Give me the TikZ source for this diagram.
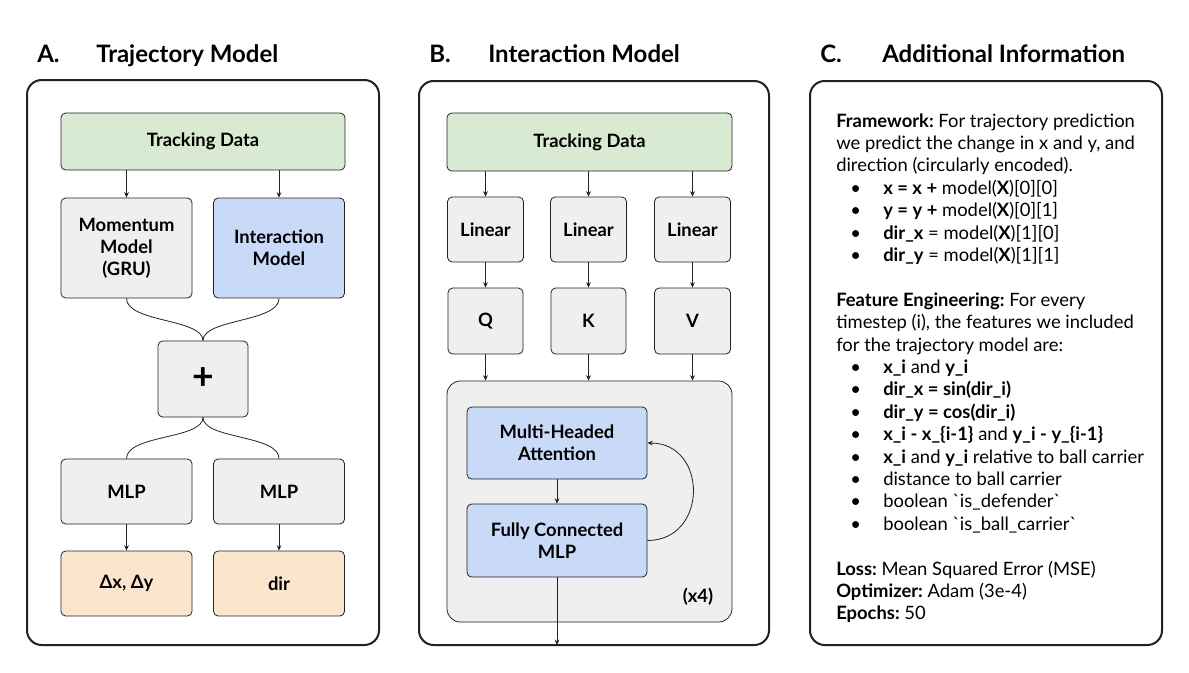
\documentclass[tikz,border=0pt]{standalone}
\usepackage{fontspec}
\setmainfont{Lato}
\usetikzlibrary{arrows.meta}
\definecolor{boxgray}{HTML}{EFEFEF}
\definecolor{boxblue}{HTML}{C9DAF8}
\definecolor{boxgreen}{HTML}{D9EAD3}
\definecolor{boxorange}{HTML}{FCE5CD}
\definecolor{edge}{HTML}{222222}
\newcommand\bul{\hspace*{10.5pt}\makebox[24.75pt][l]{\textbullet}}
\newcommand\bq{\textasciigrave}
\frenchspacing
\tikzset{
  panel/.style={draw=edge, line width=1.5pt, rounded corners=11pt},
  blk/.style={draw=edge, line width=0.6pt, rounded corners=3.5pt, align=center,
    font=\fontsize{13.8}{16.5}\selectfont\bfseries, inner sep=0pt},
  gray/.style={blk, fill=boxgray},
  blue/.style={blk, fill=boxblue},
  green/.style={blk, fill=boxgreen},
  orange/.style={blk, fill=boxorange},
  conn/.style={draw=edge, line width=0.6pt},
  arr/.style={conn, -{Stealth[length=4pt,width=3.5pt]}},
  ttl/.style={anchor=base west, inner sep=0pt, font=\fontsize{18}{22}\selectfont\bfseries},
  txt/.style={anchor=base west, inner sep=0pt, font=\fontsize{13.8}{16}\selectfont\frenchspacing}
}
\begin{document}
\begin{tikzpicture}[x=0.75pt, y=-0.75pt]
\useasboundingbox (0,0) rectangle (1189,672);
% ---------------- Titles
\node[ttl] (tA1) at (37,62) {A.};
\node[ttl] (tA2) at (96,62) {Trajectory Model};
\node[ttl] (tB1) at (429,62) {B.};
\node[ttl] (tB2) at (488,62) {Interaction Model};
\node[ttl] (tC1) at (820,62) {C.};
\node[ttl] (tC2) at (882,62) {Additional Information};
% ---------------- Panels
\draw[panel] (27,80) rectangle (379,645);
\draw[panel] (419,81) rectangle (769,645);
\draw[panel] (810,81) rectangle (1162,645);
% ---------------- Panel A
\node[green, minimum width=213pt, minimum height=42.75pt] (tdA) at (203,141.5) {Tracking Data};
\node[gray, minimum width=98.25pt, minimum height=75pt] (mom) at (126.5,248) {Momentum\\Model\\(GRU)};
\node[blue, minimum width=98.25pt, minimum height=75pt] (intA) at (279,248) {Interaction\\Model};
\node[gray, minimum width=67.5pt, minimum height=57pt, font=\fontsize{28}{30}\selectfont\bfseries] (plus) at (203,379) {+};
\node[gray, minimum width=98.25pt, minimum height=48.75pt] (mlp1) at (126.5,491.5) {MLP};
\node[gray, minimum width=98.25pt, minimum height=48.75pt] (mlp2) at (279,491.5) {MLP};
\node[orange, minimum width=98.25pt, minimum height=48.75pt] (out1) at (126.5,583.5) {Δx, Δy};
\node[orange, minimum width=98.25pt, minimum height=48.75pt] (out2) at (279,583.5) {dir};
\draw[arr] (tdA.south -| mom.north) -- (mom.north);
\draw[arr] (tdA.south -| intA.north) -- (intA.north);
\draw[conn] (mom.south) .. controls +(0,24) and +(0,-22) .. (plus.north);
\draw[conn] (intA.south) .. controls +(0,24) and +(0,-22) .. (plus.north);
\draw[conn] (plus.south) .. controls +(0,22) and +(0,-24) .. (mlp1.north);
\draw[conn] (plus.south) .. controls +(0,22) and +(0,-24) .. (mlp2.north);
\draw[arr] (mlp1.south) -- (out1.north);
\draw[arr] (mlp2.south) -- (out2.north);
% ---------------- Panel B
\node[green, minimum width=213.75pt, minimum height=43.5pt] (tdB) at (589.5,142) {Tracking Data};
\node[gray, minimum width=57pt, minimum height=48.75pt] (lin1) at (485.5,229.5) {Linear};
\node[gray, minimum width=57pt, minimum height=48.75pt] (lin2) at (588.5,229.5) {Linear};
\node[gray, minimum width=57pt, minimum height=48.75pt] (lin3) at (692.5,229.5) {Linear};
\node[gray, minimum width=56.25pt, minimum height=49.5pt] (q) at (485.5,321) {Q};
\node[gray, minimum width=56.25pt, minimum height=49.5pt] (k) at (588.5,321) {K};
\node[gray, minimum width=57pt, minimum height=49.5pt] (v) at (692.5,321) {V};
\node[gray, rounded corners=10pt, minimum width=213.75pt, minimum height=180.75pt] (big) at (589.5,501.5) {};
\node[blue, minimum width=135pt, minimum height=54pt] (mha) at (557,443) {Multi-Headed\\Attention};
\node[blue, minimum width=135pt, minimum height=54.75pt] (fc) at (557,540.5) {Fully Connected\\MLP};
\node[blk, draw=none, fill=none] (x4) at (698,597) {(x4)};
\coordinate (outB) at (557,645);
\draw[arr] (tdB.south -| lin1.north) -- (lin1.north);
\draw[arr] (tdB.south -| lin2.north) -- (lin2.north);
\draw[arr] (tdB.south -| lin3.north) -- (lin3.north);
\draw[arr] (lin1.south) -- (q.north);
\draw[arr] (lin2.south) -- (k.north);
\draw[arr] (lin3.south) -- (v.north);
\draw[arr] (q.south) -- (q.south |- big.north);
\draw[arr] (k.south) -- (k.south |- big.north);
\draw[arr] (v.south) -- (v.south |- big.north);
\draw[arr] (mha.south) -- (fc.north);
\draw[arr] (fc.east) to[out=0, in=0, looseness=1.6] (mha.east);
\draw[arr] (fc.south) -- (outB);
% ---------------- Panel C
\def\lh{22.4}
\node[txt] (c1) at (836,127) {\textbf{Framework:} For trajectory prediction};
\node[txt] (c2) at (836,127+1*\lh) {we predict the change in x and y, and};
\node[txt] (c3) at (836,127+2*\lh) {direction (circularly encoded).};
\node[txt] (c4) at (836,127+3*\lh) {\bul\textbf{x = x +} model(\textbf{X})[0][0]};
\node[txt] (c5) at (836,127+4*\lh) {\bul\textbf{y = y +} model(\textbf{X})[0][1]};
\node[txt] (c6) at (836,127+5*\lh) {\bul\textbf{dir\_x} = model(\textbf{X})[1][0]};
\node[txt] (c7) at (836,127+6*\lh) {\bul\textbf{dir\_y} = model(\textbf{X})[1][1]};
\node[txt] (c9) at (836,127+8*\lh) {\textbf{Feature Engineering:} For every};
\node[txt] (c10) at (836,127+9*\lh) {timestep (i), the features we included};
\node[txt] (c11) at (836,127+10*\lh) {for the trajectory model are:};
\node[txt] (c12) at (836,127+11*\lh) {\bul\textbf{x\_i} and \textbf{y\_i}};
\node[txt] (c13) at (836,127+12*\lh) {\bul\textbf{dir\_x = sin(dir\_i)}};
\node[txt] (c14) at (836,127+13*\lh) {\bul\textbf{dir\_y = cos(dir\_i)}};
\node[txt] (c15) at (836,127+14*\lh) {\bul\textbf{x\_i - x\_\{i-1\}} and \textbf{y\_i - y\_\{i-1\}}};
\node[txt] (c16) at (836,127+15*\lh) {\bul\textbf{x\_i} and \textbf{y\_i} relative to ball carrier};
\node[txt] (c17) at (836,127+16*\lh) {\bul distance to ball carrier};
\node[txt] (c18) at (836,127+17*\lh) {\bul boolean \bq is\_defender\bq};
\node[txt] (c19) at (836,127+18*\lh) {\bul boolean \bq is\_ball\_carrier\bq};
\node[txt] (c21) at (836,127+20*\lh) {\textbf{Loss:} Mean Squared Error (MSE)};
\node[txt] (c22) at (836,127+21*\lh) {\textbf{Optimizer:} Adam (3e-4)};
\node[txt] (c23) at (836,127+22*\lh) {\textbf{Epochs:} 50};
\end{tikzpicture}
\end{document}
